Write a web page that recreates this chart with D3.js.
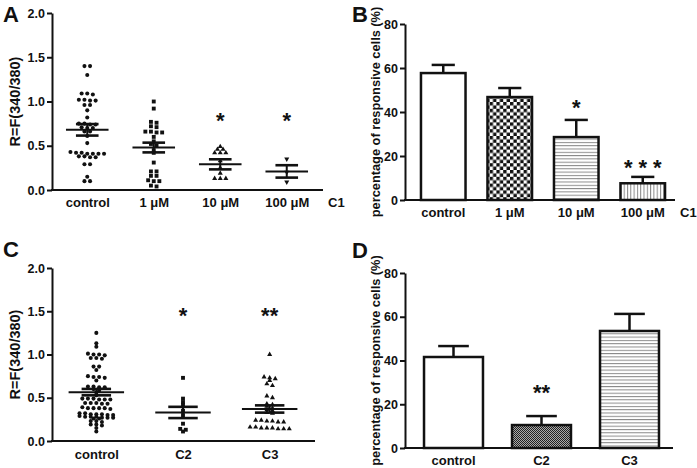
<!DOCTYPE html>
<html><head><meta charset="utf-8">
<script src="https://cdn.jsdelivr.net/npm/d3@7"></script>
<style>
body{margin:0;background:#fff}
svg{display:block}
text{font-family:"Liberation Sans",Arial,sans-serif;font-weight:bold;fill:#111}
</style>
</head><body>
<svg id="fig" width="697" height="468"></svg>
<script>
// ---------- DATA ----------
// Panel A (scatter, C1 concentrations)
const catsA = ["control", "1 \u03bcM", "10 \u03bcM", "100 \u03bcM"];
const aControl = [1.40,1.40,1.30,1.09,1.09,1.08,1.02,1.02,1.01,1.01,0.96,0.96,0.90,0.82,0.75,0.75,0.74,0.74,0.71,0.70,0.70,0.66,0.66,0.61,0.53,0.43,0.42,0.42,0.41,0.41,0.41,0.41,0.38,0.38,0.37,0.37,0.29,0.29,0.15,0.10,0.10];
const a1uM = [1.00,0.92,0.77,0.76,0.72,0.71,0.66,0.66,0.65,0.65,0.60,0.55,0.52,0.50,0.45,0.42,0.31,0.21,0.21,0.16,0.16,0.11,0.10,0.10,0.05,0.04];
const a10uM = [0.49,0.46,0.46,0.42,0.42,0.42,0.33,0.25,0.19,0.13,0.13,0.13];
const a100uM = [0.35,0.20,0.09];
const aMean = [0.68, 0.48, 0.29, 0.21];
const aSem = [0.065, 0.055, 0.057, 0.07];
const aStars = ["", "", "*", "*"];
const aStarAt = [null, null, 0.85, 0.85];
const ticksA = [0, 0.5, 1.0, 1.5, 2.0];

// Panel B (bars, C1 concentrations)
const catsB = ["control", "1 \u03bcM", "10 \u03bcM", "100 \u03bcM"];
const bValues = [57.7, 46.8, 28.6, 7.6];
const bSem = [3.7, 4.1, 7.8, 2.9];
const bStars = ["", "", "*", "***"];
const bStarAt = [null, null, 44.5, 17.3];
const ticksB = [0, 20, 40, 60, 80];

// Panel C (scatter, compounds)
const catsC = ["control", "C2", "C3"];
const cControl = [1.25,1.13,1.09,1.01,1.00,1.00,0.99,0.96,0.96,0.95,0.86,0.86,0.82,0.75,0.74,0.74,0.73,0.70,0.63,0.63,0.62,0.62,0.60,0.58,0.56,0.53,0.49,0.49,0.49,0.48,0.48,0.48,0.44,0.44,0.44,0.43,0.43,0.39,0.38,0.38,0.38,0.38,0.37,0.32,0.32,0.31,0.31,0.31,0.30,0.30,0.29,0.28,0.28,0.28,0.27,0.27,0.27,0.26,0.26,0.23,0.23,0.22,0.19,0.19,0.18,0.15,0.11];
const cC2 = [0.73,0.49,0.45,0.42,0.35,0.30,0.20,0.14,0.13,0.11];
const cC3 = [1.00,0.74,0.73,0.72,0.70,0.66,0.64,0.52,0.50,0.43,0.42,0.40,0.38,0.36,0.35,0.33,0.32,0.24,0.24,0.23,0.23,0.22,0.22,0.16,0.16,0.15,0.15,0.15,0.14,0.14,0.14];
const cMean = [0.565, 0.33, 0.37];
const cSem = [0.037, 0.065, 0.042];
const cStars = ["", "*", "**"];
const cStarAt = [null, 1.51, 1.51];
const ticksC = [0, 0.5, 1.0, 1.5, 2.0];

// Panel D (bars, compounds)
const catsD = ["control", "C2", "C3"];
const dValues = [41.6, 10.5, 53.5];
const dSem = [5.0, 4.1, 7.8];
const dStars = ["", "**", ""];
const dStarAt = [null, 27.9, null];
const ticksD = [0, 20, 40, 60, 80];

// ---------- DRAWING ----------
const svg = d3.select("#fig");
const defs = svg.append("defs");
const INK = "#111";

function pattern(id, w, h, bg, draw) {
  const p = defs.append("pattern").attr("id", id)
    .attr("patternUnits", "userSpaceOnUse").attr("width", w).attr("height", h);
  p.append("rect").attr("width", w).attr("height", h).attr("fill", bg);
  draw(p);
}
pattern("checker", 6.8, 6.8, "#fff", p => {
  p.append("rect").attr("width", 3.4).attr("height", 3.4).attr("fill", INK);
  p.append("rect").attr("x", 3.4).attr("y", 3.4).attr("width", 3.4).attr("height", 3.4).attr("fill", INK);
});
pattern("hlines", 4, 3.3, "#fff", p => {
  p.append("rect").attr("x", 0).attr("y", 0).attr("width", 4).attr("height", 1).attr("fill", "#888");
});
pattern("vlines", 3.3, 4, "#fff", p => {
  p.append("rect").attr("x", 0).attr("y", 0).attr("width", 1).attr("height", 4).attr("fill", "#888");
});
pattern("fine", 2, 2, "#aaa", p => {
  p.append("rect").attr("width", 1).attr("height", 1).attr("fill", "#222");
  p.append("rect").attr("x", 1).attr("y", 1).attr("width", 1).attr("height", 1).attr("fill", "#222");
});

function panelLetter(txt, x, y) {
  svg.append("text").attr("x", x).attr("y", y).attr("font-size", 22).text(txt);
}

function axes(L, y, ticks, fmt, cats, xBand, title, titleSize, titleX, extra) {
  const gy = svg.append("g").attr("transform", `translate(${L.x0},0)`)
    .call(d3.axisLeft(y).tickValues(ticks).tickFormat(fmt).tickSize(5).tickPadding(2).tickSizeOuter(0));
  gy.attr("font-family", null).attr("font-size", 12.5).attr("color", INK);
  gy.select(".domain").attr("stroke-width", 2);
  gy.selectAll(".tick line").attr("stroke-width", 2);
  svg.append("line").attr("x1", L.x0 - 1).attr("x2", L.xEnd).attr("y1", L.yBot).attr("y2", L.yBot)
    .attr("stroke", INK).attr("stroke-width", 2);
  const gx = svg.append("g").attr("transform", `translate(0,${L.yBot})`)
    .call(d3.axisBottom(xBand).tickSize(0).tickPadding(L.labPad));
  gx.attr("font-family", null).attr("font-size", 13).attr("color", INK);
  gx.select(".domain").remove();
  if (extra) {
    svg.append("text").attr("x", L.xEnd + 5).attr("y", L.yBot + L.labPad).attr("dy", "0.71em")
      .attr("font-size", 13).text(extra);
  }
  const yMid = (L.yTop + L.yBot) / 2;
  svg.append("text").attr("transform", `translate(${titleX},${yMid}) rotate(-90)`)
    .attr("text-anchor", "middle").attr("font-size", titleSize).text(title);
}

function stars(x, y, cats, labels, at) {
  cats.forEach((c, i) => {
    if (!labels[i]) return;
    const sp = labels[i].length > 2 ? 6 : 0;
    svg.append("text").attr("x", x(c) + sp / 2).attr("y", y(at[i])).attr("dy", "0.58em")
      .attr("text-anchor", "middle").attr("font-size", 22)
      .style("letter-spacing", sp + "px").text(labels[i]);
  });
}

// row-based scatter layout (Prism style): points with similar y are spread in centred rows
function swarm(values, y, spacing, tol) {
  const sorted = values.slice().sort((a, b) => b - a);
  const rows = [];
  sorted.forEach(v => {
    const py = y(v), r = rows[rows.length - 1];
    if (r && Math.abs(py - r.y0) < tol) r.pts.push(py); else rows.push({ y0: py, pts: [py] });
  });
  const out = [];
  rows.forEach(r => { const n = r.pts.length; r.pts.forEach((py, i) => out.push({ dx: (i - (n - 1) / 2) * spacing, y: py })); });
  return out;
}

function scatterPanel(L, cats, groups, symbols, means, sems, starLabels, starAt, ticks, title) {
  const y = d3.scaleLinear().domain([0, 2]).range([L.yBot, L.yTop]);
  const x = d3.scalePoint().domain(cats).range(L.xr).padding(0.5);
  const step = x.step();
  axes(L, y, ticks, d3.format(".1f"), cats, x, title, 14.5, L.titleX, L.extra);
  groups.forEach((vals, i) => {
    const cx = x(cats[i]);
    const sym = symbols[i];
    const pts = swarm(vals, y, 5.6, 2.5);
    svg.append("g").selectAll("path").data(pts).join("path")
      .attr("transform", d => `translate(${cx + d.dx},${d.y})${sym.rot ? " rotate(180)" : ""}`)
      .attr("d", d3.symbol().type(sym.type).size(sym.size)())
      .attr("fill", INK);
    const mw = step * 0.64, sw = step * 0.34;
    const g = svg.append("g").attr("stroke", INK);
    g.append("line").attr("x1", cx - mw / 2).attr("x2", cx + mw / 2)
      .attr("y1", y(means[i])).attr("y2", y(means[i])).attr("stroke-width", 2);
    g.append("line").attr("x1", cx).attr("x2", cx)
      .attr("y1", y(means[i] - sems[i])).attr("y2", y(means[i] + sems[i])).attr("stroke-width", 2);
    [means[i] - sems[i], means[i] + sems[i]].forEach(v => {
      g.append("line").attr("x1", cx - sw / 2).attr("x2", cx + sw / 2)
        .attr("y1", y(v)).attr("y2", y(v)).attr("stroke-width", 2.6);
    });
  });
  stars(x, y, cats, starLabels, starAt);
}

function barPanel(L, cats, values, sems, fills, starLabels, starAt, ticks, title) {
  const y = d3.scaleLinear().domain([0, 80]).range([L.yBot, L.yTop]);
  const x = d3.scaleBand().domain(cats).range(L.xr).paddingInner(0.33).paddingOuter(0.165);
  const xc = c => x(c) + x.bandwidth() / 2;
  axes(L, y, ticks, d3.format("d"), cats, x, "percentage of responsive cells (%)", 12.8, L.titleX, L.extra);
  const bw = x.bandwidth();
  cats.forEach((c, i) => {
    const g = svg.append("g").attr("stroke", INK);
    const cx = xc(c);
    g.append("line").attr("x1", cx).attr("x2", cx).attr("y1", y(values[i])).attr("y2", y(values[i] + sems[i]))
      .attr("stroke-width", 2.5);
    g.append("line").attr("x1", cx - bw * 0.26).attr("x2", cx + bw * 0.26)
      .attr("y1", y(values[i] + sems[i])).attr("y2", y(values[i] + sems[i])).attr("stroke-width", 2.5);
    g.append("rect").attr("x", x(c)).attr("width", bw)
      .attr("y", y(values[i])).attr("height", y(0) - y(values[i]))
      .attr("fill", fills[i]).attr("stroke-width", 2.5);
  });
  stars(xc, y, cats, starLabels, starAt);
}

const circle = { type: d3.symbolCircle, size: 13 };
const square = { type: d3.symbolSquare, size: 15 };
const triUp = { type: d3.symbolTriangle, size: 11 };
const triDown = { type: d3.symbolTriangle, size: 11, rot: true };

// Panel A
panelLetter("A", 3, 22);
scatterPanel({ x0: 52, xEnd: 323, yTop: 13, yBot: 190, xr: [54, 320], labPad: 8, titleX: 19.5, extra: "C1" },
  catsA, [aControl, a1uM, a10uM, a100uM], [circle, square, triUp, triDown], aMean, aSem, aStars, aStarAt, ticksA, "R=F(340/380)");

// Panel B
panelLetter("B", 352, 22);
barPanel({ x0: 405, xEnd: 675, yTop: 24, yBot: 200, xr: [410, 676], labPad: 8, titleX: 380, extra: "C1" },
  catsB, bValues, bSem, ["#fff", "url(#checker)", "url(#hlines)", "url(#vlines)"], bStars, bStarAt, ticksB);

// Panel C
panelLetter("C", 3, 257);
scatterPanel({ x0: 52, xEnd: 315, yTop: 268, yBot: 441, xr: [53, 313], labPad: 9, titleX: 19.5 },
  catsC, [cControl, cC2, cC3], [circle, square, triUp], cMean, cSem, cStars, cStarAt, ticksC, "R=F(340/380)");

// Panel D
panelLetter("D", 352, 258);
barPanel({ x0: 405, xEnd: 673, yTop: 273, yBot: 448, xr: [409.5, 673.5], labPad: 8, titleX: 380 },
  catsD, dValues, dSem, ["#fff", "url(#fine)", "url(#hlines)"], dStars, dStarAt, ticksD);
</script>
</body></html>
